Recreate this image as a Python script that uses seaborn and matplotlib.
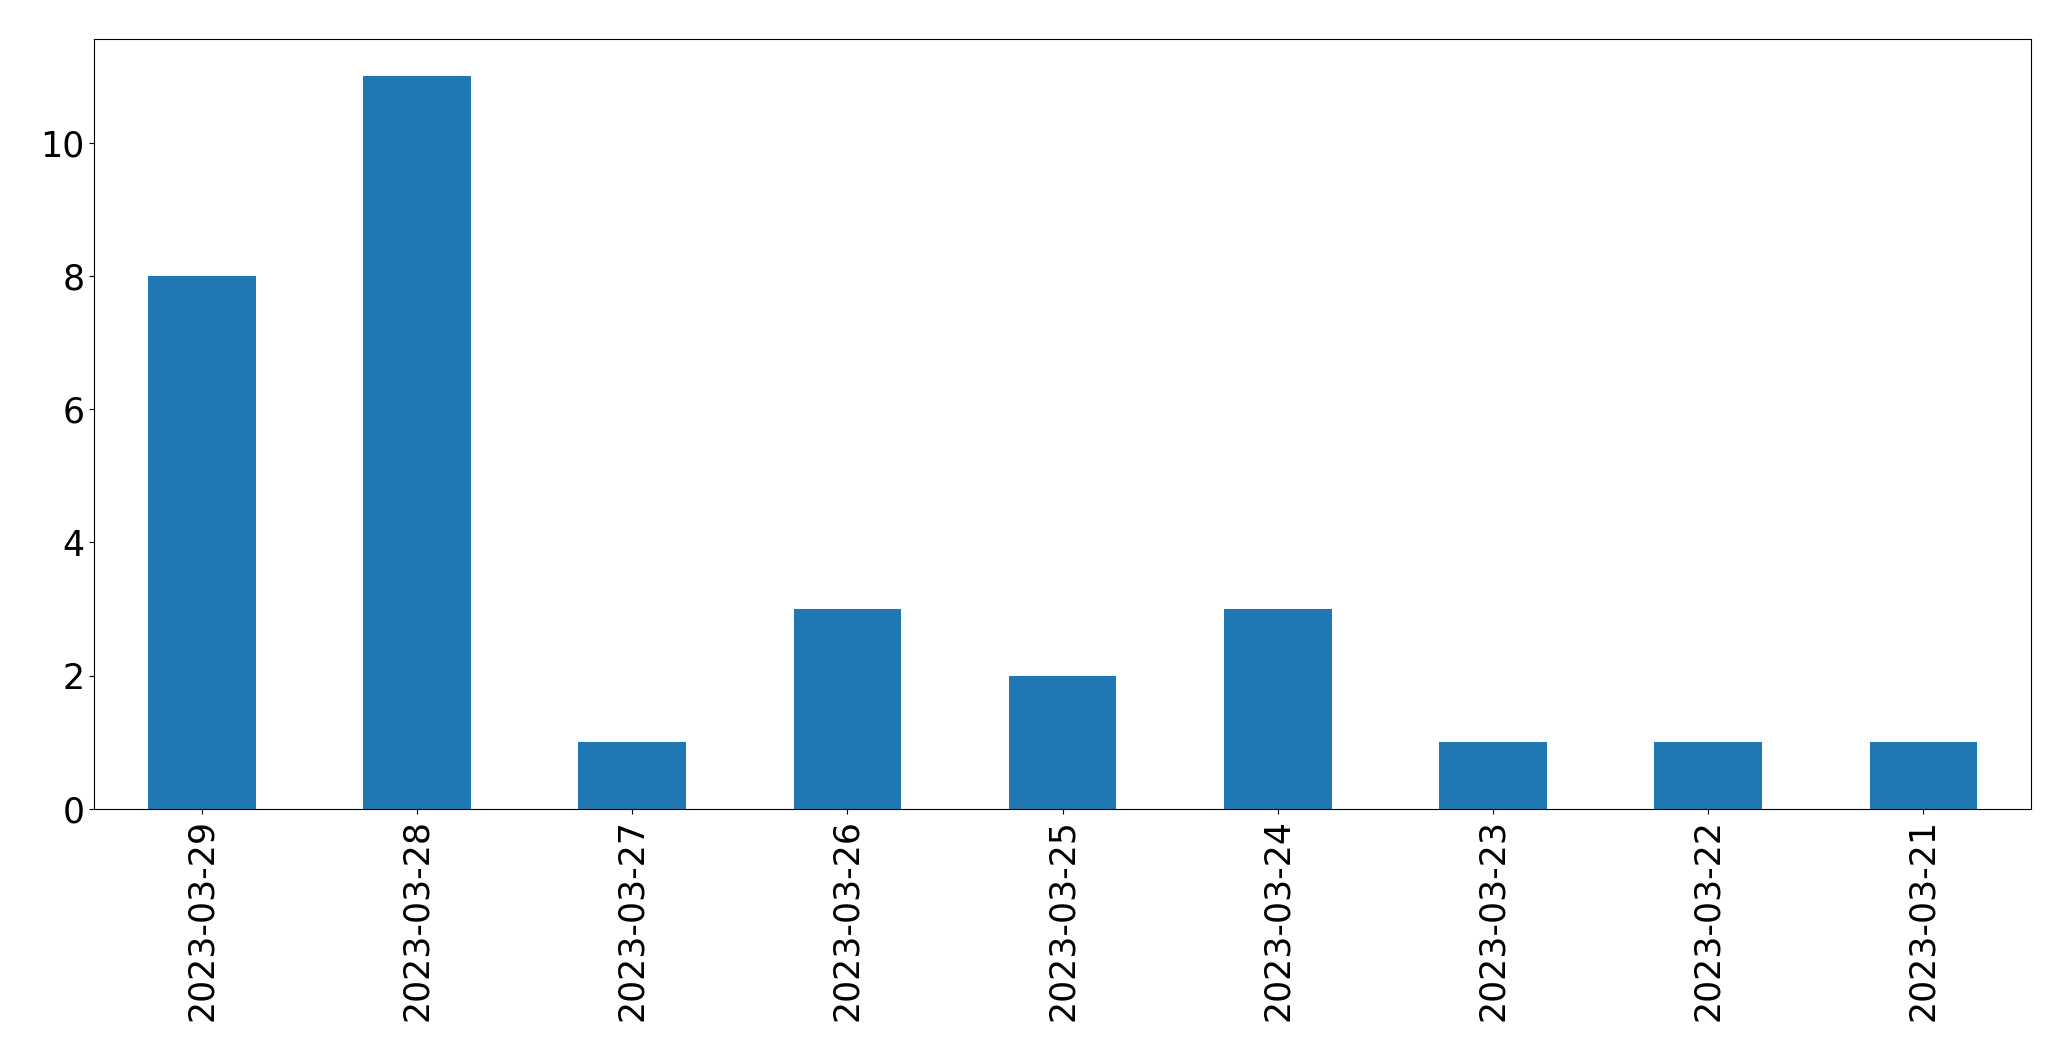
import matplotlib
matplotlib.use("Agg")
import matplotlib.pyplot as plt
import seaborn as sns
import pandas as pd

dates = ["2023-03-29", "2023-03-28", "2023-03-27", "2023-03-26", "2023-03-25",
         "2023-03-24", "2023-03-23", "2023-03-22", "2023-03-21"]
counts = [8, 11, 1, 3, 2, 3, 1, 1, 1]

df = pd.DataFrame({"date": dates, "count": counts})

fig = plt.figure(figsize=(20.71, 10.61), dpi=100)
ax = fig.add_axes([94.3 / 2071, 1 - 809 / 1061, (2031 - 94.3) / 2071, (809 - 39.3) / 1061])
sns.barplot(data=df, x="date", y="count", order=dates, color="#1f77b4",
            saturation=1, width=0.5, ax=ax, errorbar=None, linewidth=0)
ax.set_xlim(-0.5, len(dates) - 0.5)
ax.set_ylim(0, max(counts) * 1.05)
ax.set_xlabel("")
ax.set_ylabel("")
ax.tick_params(axis="x", labelrotation=90, labelsize=25)
ax.tick_params(axis="y", labelsize=25)
for s in ax.spines.values():
    s.set_color("black")
fig.savefig("out.png", dpi=100)
